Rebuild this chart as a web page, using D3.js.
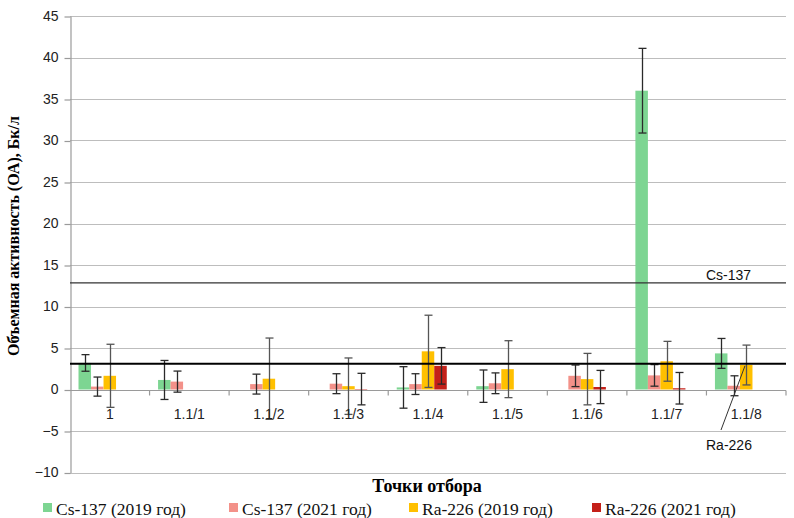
<!DOCTYPE html>
<html>
<head>
<meta charset="utf-8">
<script src="https://cdn.jsdelivr.net/npm/d3@7"></script>
<style>
  body { margin: 0; background: #fff; }
  svg { display: block; }
</style>
</head>
<body>
<div class="chart"></div>
<script>
const width = 794;
const height = 518;

// data
const categories = ['1', '1.1/1', '1.1/2', '1.1/3', '1.1/4', '1.1/5', '1.1/6', '1.1/7', '1.1/8'];
const seriesNames = ['Cs-137 (2019 год)', 'Cs-137 (2021 год)', 'Ra-226 (2019 год)', 'Ra-226 (2021 год)'];
const seriesColors = ['#7dd592', '#f39189', '#ffc000', '#c42019'];
const cs2019 = [3.2, 1.15, 0, 0, 0.25, 0.4, 0, 36, 4.35];
const cs2019Err = [1.0, 2.35, 0, 0, 2.5, 1.95, 0, 5.1, 1.8];
const cs2021 = [0.35, 0.95, 0.65, 0.7, 0.65, 0.75, 1.65, 1.7, 0.45];
const cs2021Err = [1.15, 1.27, 1.2, 1.2, 1.25, 1.25, 1.3, 1.3, 1.2];
const ra2019 = [1.65, 0, 1.3, 0.4, 4.6, 2.45, 1.25, 3.4, 2.95];
const ra2019Err = [3.8, 0, 4.9, 3.4, 4.35, 3.43, 3.1, 2.4, 2.4];
const ra2021 = [0, 0, 0, 0.05, 2.85, 0, 0.3, 0.15, 0];
const ra2021Err = [0, 0, 0, 1.9, 2.2, 0, 2.0, 1.9, 0];
const yTicks = [-10, -5, 0, 5, 10, 15, 20, 25, 30, 35, 40, 45];
const refLines = [{name: 'Cs-137', value: 12.85}, {name: 'Ra-226', value: 3.1}];

const values = [cs2019, cs2021, ra2019, ra2021];
const errors = [cs2019Err, cs2021Err, ra2019Err, ra2021Err];

const margin = {top: 16, right: 8, bottom: 45.5, left: 70};

const svg = d3.select('div.chart')
    .append('svg')
    .attr('width', width)
    .attr('height', height);

const x0 = d3.scaleBand()
    .domain(categories)
    .range([margin.left, width - margin.right]);

// five slots per group, the last one stays empty
const x1 = d3.scaleBand()
    .domain([0, 1, 2, 3, 4])
    .range([0, x0.bandwidth()])
    .paddingOuter(0.68);

const y = d3.scaleLinear()
    .domain([-10, 45])
    .range([height - margin.bottom, margin.top]);

// gridlines
svg.append('g')
    .selectAll('line')
    .data(yTicks)
    .enter()
    .append('line')
    .attr('x1', margin.left)
    .attr('x2', width - margin.right)
    .attr('y1', (d) => Math.round(y(d)) + 0.5)
    .attr('y2', (d) => Math.round(y(d)) + 0.5)
    .attr('stroke', (d) => d === 0 ? '#9a9a9a' : '#bdbdbd')
    .attr('stroke-width', 1.2);

// y axis
const yAxis = svg.append('g')
    .attr('transform', `translate(${margin.left + 0.5},0)`)
    .call(d3.axisLeft(y).tickValues(yTicks).tickSize(6).tickSizeOuter(0).tickPadding(6));
yAxis.select('.domain').attr('stroke', '#9a9a9a').attr('stroke-width', 1.2);
yAxis.selectAll('.tick line').attr('stroke', '#9a9a9a').attr('stroke-width', 1.2)
    .attr('transform', 'translate(0,0.5)');
yAxis.selectAll('.tick text')
    .attr('font-family', 'Liberation Sans, Arial, sans-serif')
    .attr('font-size', 14)
    .attr('fill', '#222');

// category ticks on zero line
const y0 = Math.round(y(0)) + 0.5;
svg.append('g')
    .selectAll('line')
    .data(categories.slice(1).concat(['end']))
    .enter()
    .append('line')
    .attr('x1', (d) => d === 'end' ? width - margin.right : x0(d))
    .attr('x2', (d) => d === 'end' ? width - margin.right : x0(d))
    .attr('y1', y0)
    .attr('y2', y0 + 5)
    .attr('stroke', '#9a9a9a')
    .attr('stroke-width', 1.2);

// bars
const cells = [];
values.forEach((arr, s) => {
  arr.forEach((v, i) => {
    cells.push({s: s, cat: categories[i], v: v, e: errors[s][i]});
  });
});

svg.append('g')
    .selectAll('rect')
    .data(cells.filter((d) => d.v > 0))
    .enter()
    .append('rect')
    .attr('x', (d) => x0(d.cat) + x1(d.s))
    .attr('width', x1.bandwidth())
    .attr('y', (d) => y(d.v))
    .attr('height', (d) => y(0) - y(d.v))
    .attr('fill', (d) => seriesColors[d.s]);

// error bars
const eb = svg.append('g')
    .selectAll('g')
    .data(cells.filter((d) => d.e > 0))
    .enter()
    .append('g')
    .attr('stroke', (d) => d.s === 2 ? '#555' : '#2a2a2a')
    .attr('stroke-width', 1.3);

const cx = (d) => Math.round(x0(d.cat) + x1(d.s) + x1.bandwidth() / 2) + 0.5;
eb.append('line')
    .attr('x1', cx).attr('x2', cx)
    .attr('y1', (d) => y(d.v + d.e))
    .attr('y2', (d) => y(d.v - d.e));
eb.append('line')
    .attr('x1', (d) => cx(d) - 4).attr('x2', (d) => cx(d) + 4)
    .attr('y1', (d) => y(d.v + d.e)).attr('y2', (d) => y(d.v + d.e));
eb.append('line')
    .attr('x1', (d) => cx(d) - 4).attr('x2', (d) => cx(d) + 4)
    .attr('y1', (d) => y(d.v - d.e)).attr('y2', (d) => y(d.v - d.e));

// reference lines
svg.append('g')
    .selectAll('line')
    .data(refLines)
    .enter()
    .append('line')
    .attr('x1', margin.left)
    .attr('x2', width - margin.right)
    .attr('y1', (d) => y(d.value))
    .attr('y2', (d) => y(d.value))
    .attr('stroke', (d, i) => i === 0 ? '#333' : '#000')
    .attr('stroke-width', (d, i) => i === 0 ? 1.1 : 2);

// category labels
svg.append('g')
    .selectAll('text')
    .data(categories)
    .enter()
    .append('text')
    .attr('x', (d) => x0(d) + x0.bandwidth() / 2)
    .attr('y', y0 + 28)
    .attr('text-anchor', 'middle')
    .attr('font-family', 'Liberation Sans, Arial, sans-serif')
    .attr('font-size', 14)
    .attr('fill', '#222')
    .text((d) => d);

// ref labels
svg.append('text')
    .attr('x', 706)
    .attr('y', y(refLines[0].value) - 3)
    .attr('font-family', 'Liberation Sans, Arial, sans-serif')
    .attr('font-size', 14)
    .attr('fill', '#111')
    .text(refLines[0].name);

svg.append('line')
    .attr('x1', 745).attr('y1', y(refLines[1].value) + 2)
    .attr('x2', 721).attr('y2', 430)
    .attr('stroke', '#333')
    .attr('stroke-width', 1);

svg.append('text')
    .attr('x', 706)
    .attr('y', 450)
    .attr('font-family', 'Liberation Sans, Arial, sans-serif')
    .attr('font-size', 14)
    .attr('fill', '#111')
    .text(refLines[1].name);

// axis titles
svg.append('text')
    .attr('x', 427)
    .attr('y', 492)
    .attr('text-anchor', 'middle')
    .attr('font-family', 'Liberation Serif, Times New Roman, serif')
    .attr('font-weight', 'bold')
    .attr('font-size', 18)
    .text('Точки отбора');

svg.append('text')
    .attr('transform', 'translate(19,236) rotate(-90)')
    .attr('text-anchor', 'middle')
    .attr('font-family', 'Liberation Serif, Times New Roman, serif')
    .attr('font-weight', 'bold')
    .attr('font-size', 16)
    .text('Объемная активность (ОА), Бк/л');

// legend
const legendX = [43, 229, 409, 592];
const lg = svg.append('g')
    .selectAll('g')
    .data(seriesNames)
    .enter()
    .append('g')
    .attr('transform', (d, i) => `translate(${legendX[i]},515)`);
lg.append('rect')
    .attr('x', 0).attr('y', -12)
    .attr('width', 9).attr('height', 9)
    .attr('fill', (d, i) => seriesColors[i]);
lg.append('text')
    .attr('x', 13)
    .attr('y', 0)
    .attr('font-family', 'Liberation Serif, Times New Roman, serif')
    .attr('font-size', 17.5)
    .attr('fill', '#111')
    .text((d) => d);
</script>
</body>
</html>
